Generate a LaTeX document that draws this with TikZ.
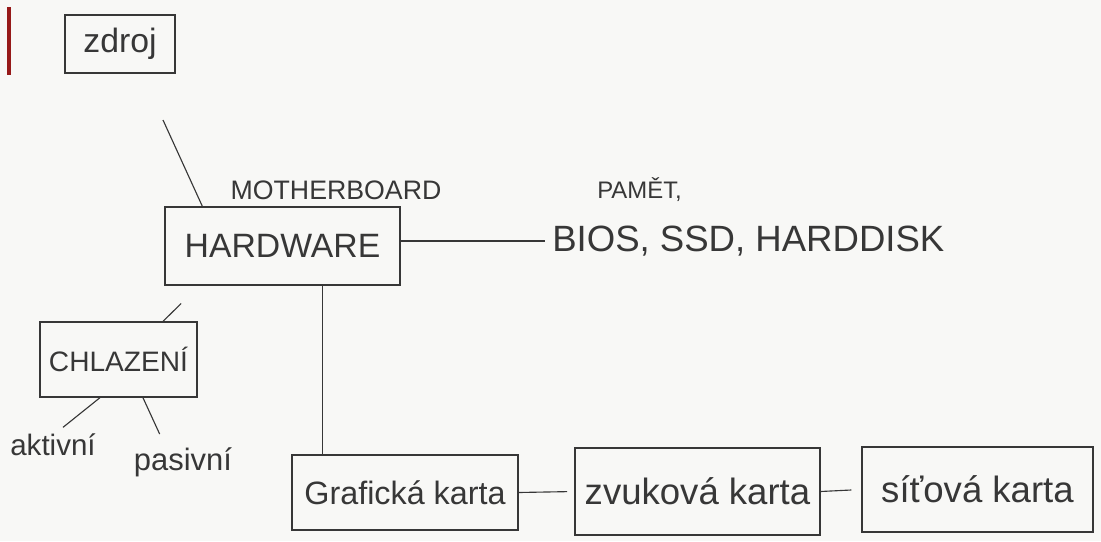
\documentclass[tikz,border=0pt]{standalone}
\usepackage{fontspec}
\setmainfont{Liberation Sans}
\definecolor{pen}{RGB}{55,55,55}
\definecolor{paper}{RGB}{248,248,246}
\definecolor{edge}{RGB}{150,25,25}
\newcommand{\handfont}[1]{\fontsize{#1}{#1}\selectfont}
\tikzset{
  box/.style={draw=pen, line width=0.8pt, text=pen, inner sep=0pt},
  word/.style={text=pen, inner sep=0pt},
  link/.style={draw=pen, line width=0.8pt},
}
\begin{document}
\begin{tikzpicture}[x=0.025cm, y=-0.025cm]
  % Paper
  \fill[paper] (0,0) rectangle (1101,541);
  \useasboundingbox (0,0) rectangle (1101,541);
  \fill[edge] (7,7) rectangle (11,75);

  % Boxes
  \node[box, minimum width=2.75cm, minimum height=1.45cm, font=\handfont{24}] (zdroj) at (120,44) {zdroj};
  \node[box, minimum width=5.875cm, minimum height=1.95cm, font=\handfont{24}] (hw) at (282.5,246) {HARDWARE};
  \node[box, minimum width=3.925cm, minimum height=1.875cm, font=\handfont{20}] (chl) at (118.5,359.5) {CHLAZENÍ};
  \node[box, minimum width=5.65cm, minimum height=1.875cm, font=\handfont{23}] (graf) at (405,492.5) {Grafická karta};
  \node[box, minimum width=6.125cm, minimum height=2.175cm, font=\handfont{26}] (zvuk) at (697.5,491.5) {zvuková karta};
  \node[box, minimum width=5.775cm, minimum height=2.125cm, font=\handfont{26}] (sit) at (977.5,489.5) {síťová karta};

  % Labels
  \node[word, font=\handfont{19}] (mb) at (336,190) {MOTHERBOARD};
  \node[word, anchor=west, font=\handfont{17}] (pamet) at (597,190) {PAMĚT,};
  \node[word, anchor=west, font=\handfont{26}] (bios) at (552,241) {BIOS, SSD, HARDDISK};
  \node[word, inner sep=4pt, anchor=base, font=\handfont{21}] (akt) at (53,455) {aktivní};
  \node[word, inner sep=4pt, anchor=base, font=\handfont{22}] (pas) at (183,470) {pasivní};

  % Connectors
  \coordinate (zdrojTail) at (163,120);
  \draw[link] (zdrojTail) -- ([xshift=0.95cm]hw.north west);
  \draw[link, shorten >=0.18cm] (hw.east |- bios.west) -- (bios.west);
  \coordinate (hwFoot) at ([xshift=0.99cm]hw.south);
  \draw[link] (hwFoot) -- (hwFoot |- graf.north);
  \draw[link, shorten >=0.64cm] ([xshift=1.11cm]chl.north) -- ([xshift=0.875cm]hw.south west);
  \draw[link] ([xshift=-0.46cm]chl.south) -- ([xshift=0.25cm]akt.north);
  \draw[link, shorten >=0.2cm] ([xshift=0.61cm]chl.south) -- ([xshift=-0.5cm]pas.north);
  \draw[link, shorten >=0.18cm] (graf.east) -- (zvuk.west);
  \draw[link, shorten >=0.25cm] (zvuk.east) -- (sit.west);
\end{tikzpicture}
\end{document}
